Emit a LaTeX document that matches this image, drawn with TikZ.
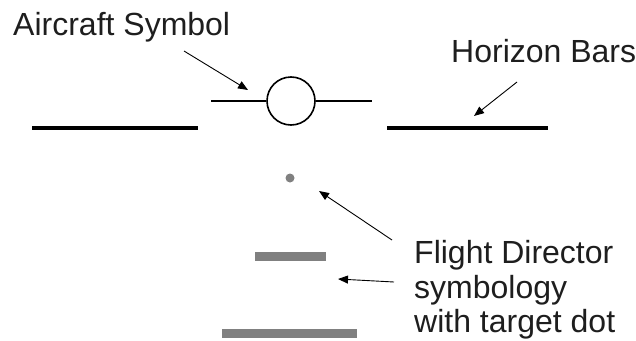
\documentclass[tikz,border=0pt]{standalone}
\usepackage{fontspec}
\setmainfont{Liberation Sans}
\usepackage{xcolor}
\usetikzlibrary{arrows.meta}
\definecolor{fdgray}{RGB}{128,128,128}
\definecolor{labelink}{RGB}{30,30,30}

\begin{document}
\begin{tikzpicture}[
  x=1pt, y=-1pt,
  font=\fontsize{32}{34.5}\selectfont,
  label/.style={inner sep=0pt, text=labelink, anchor=base west},
  pointer/.style={-{Triangle[length=10pt, width=8pt]}, line width=0.9pt, draw=black},
  horizon/.style={draw=black, line width=4pt},
  fdbar/.style={draw=fdgray, line width=8.5pt},
  wing/.style={draw=black, line width=1.4pt}
]
\useasboundingbox (0,0) rectangle (636,340);

% Aircraft symbol
\node[circle, draw=black, line width=1.6pt, minimum size=48pt, inner sep=0pt] (plane) at (291,101) {};
\coordinate (wingL) at (211,101);
\coordinate (wingR) at (372,101);
\draw[wing] (wingL) -- (plane.west);
\draw[wing] (plane.east) -- (wingR);

% Horizon bars
\coordinate (barLa) at (32,128);
\coordinate (barLb) at (198,128);
\coordinate (barRa) at (387,128);
\coordinate (barRb) at (548,128);
\draw[horizon] (barLa) -- (barLb);
\draw[horizon] (barRa) -- (barRb);

% Flight director symbology
\node[circle, fill=fdgray, minimum size=9pt, inner sep=0pt] (target) at (290,178) {};
\coordinate (fdTopa) at (255,256.5);
\coordinate (fdTopb) at (326,256.5);
\coordinate (fdLowa) at (222,333.5);
\coordinate (fdLowb) at (357,333.5);
\draw[fdbar] (fdTopa) -- (fdTopb);
\draw[fdbar] (fdLowa) -- (fdLowb);

% Labels
\node[label] (acText) at (13,35) {Aircraft Symbol};
\node[label] (hzText) at (451,62) {Horizon Bars};
\node[label, align=left] (fdText) at (414,332.5) {Flight Director\\symbology\\with target dot};

% Pointers
\coordinate (acFrom) at (184,51);
\coordinate (acTip) at (248,90);
\coordinate (hzFrom) at (517,82);
\coordinate (hzTip) at (474,116);
\coordinate (dotFrom) at (392,240);
\coordinate (dotTip) at (319,191);
\coordinate (barFrom) at (394,282);
\coordinate (barTip) at (338,279);
\draw[pointer] (acFrom) -- (acTip);
\draw[pointer] (hzFrom) -- (hzTip);
\draw[pointer] (dotFrom) -- (dotTip);
\draw[pointer] (barFrom) -- (barTip);
\end{tikzpicture}
\end{document}
